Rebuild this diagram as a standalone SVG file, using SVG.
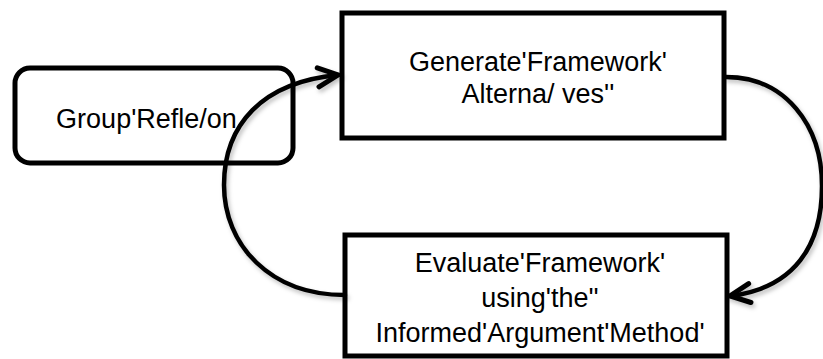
<svg xmlns="http://www.w3.org/2000/svg" width="823" height="359" viewBox="0 0 823 359">
<style>
.box{fill:#fff;stroke:#000;stroke-width:5}
.lbl{font-family:"Liberation Sans",Arial,sans-serif;font-size:27px;fill:#000;text-anchor:middle}
.conn{fill:none;stroke:#000;stroke-width:4.5;stroke-linecap:round}
</style>
<defs>
<filter id="sh" x="-20%" y="-20%" width="140%" height="140%">
<feDropShadow dx="2" dy="3" stdDeviation="2" flood-color="#000" flood-opacity="0.25"/>
</filter>
<marker id="arr" markerUnits="userSpaceOnUse" markerWidth="30" markerHeight="30" viewBox="-25 -15 30 30" refX="0" refY="0" orient="auto">
<path d="M-20,-9 L0,0 L-20,10" fill="none" stroke="#000" stroke-width="5" stroke-linecap="round" stroke-linejoin="miter"/>
</marker>
</defs>
<rect width="823" height="359" fill="#fff"/>
<g id="group-reflection">
<rect class="box" x="15" y="68" width="278" height="95" rx="15" ry="15"/>
<text class="lbl" x="146.5" y="128">Group'Refle/on</text>
</g>
<g id="generate">
<rect class="box" x="342" y="13" width="382" height="125"/>
<text class="lbl" x="538" y="71">Generate'Framework'</text>
<text class="lbl" x="538" y="103">Alterna/ ves''</text>
</g>
<g id="evaluate">
<rect class="box" x="345" y="235" width="382" height="121"/>
<text class="lbl" x="540" y="272">Evaluate'Framework'</text>
<text class="lbl" x="540" y="307">using'the''</text>
<text class="lbl" x="540" y="342">Informed'Argument'Method'</text>
</g>
<g id="connectors" filter="url(#sh)">
<path class="conn" d="M345,295 C270,295 224,245 224,185 C224,125 262,82 338,75" marker-end="url(#arr)"/>
<path class="conn" d="M726,77 C785,77 822,125 822,186 C822,245 795,288 730,296" marker-end="url(#arr)"/>
</g>
</svg>
